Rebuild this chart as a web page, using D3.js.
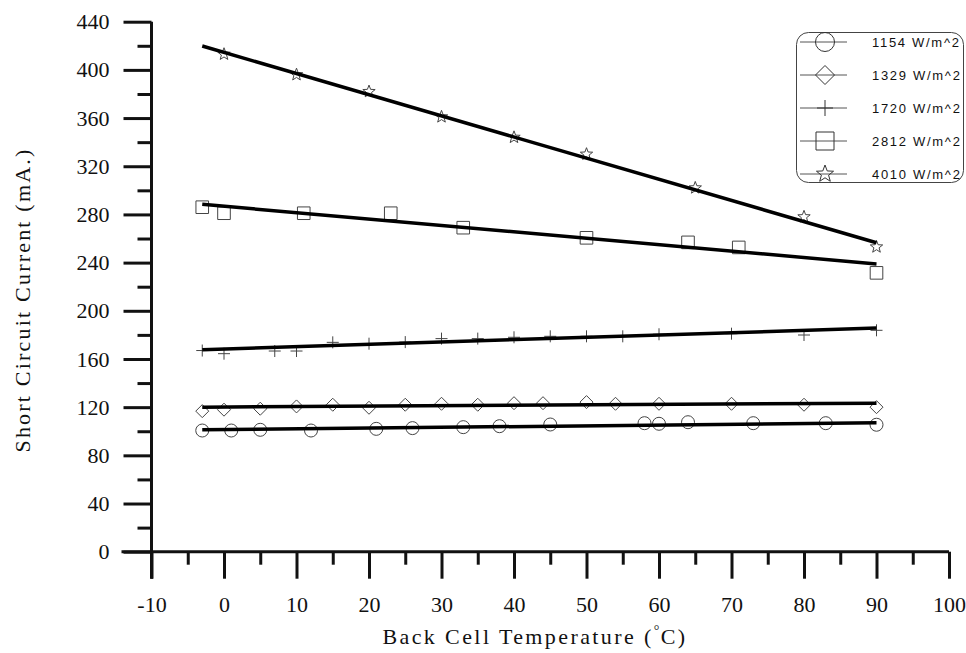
<!DOCTYPE html>
<html>
<head>
<meta charset="utf-8">
<script src="https://cdn.jsdelivr.net/npm/d3@7"></script>
<style>
body { margin: 0; background: #fff; }
svg { display: block; }
.axis text { font-family: "Liberation Serif", "Times New Roman", serif; font-size: 22px; fill: #111; }
.axis line { stroke: #111; stroke-width: 3; }
.title { font-family: "Liberation Serif", "Times New Roman", serif; font-size: 22px; fill: #111; }
.legend text { font-family: "Liberation Sans", Arial, sans-serif; font-size: 13px; fill: #111; letter-spacing: 1.7px; }
</style>
</head>
<body>
<svg id="chart" width="966" height="653"></svg>
<script>
// irradiance series, in legend order
const seriesNames = ['1154 W/m^2', '1329 W/m^2', '1720 W/m^2', '2812 W/m^2', '4010 W/m^2'];
const seriesShapes = ['circle', 'diamond', 'plus', 'square', 'star'];

// measured points (back cell temperature, short circuit current)
const temps1154 = [-3, 1, 5, 12, 21, 26, 33, 38, 45, 58, 60, 64, 73, 83, 90];
const amps1154 = [100.6, 100.6, 101.2, 100.6, 102, 102.6, 103.4, 104.2, 105.6, 106.7, 106.2, 107.5, 106.7, 106.7, 105.4];

const temps1329 = [-3, 0, 5, 10, 15, 20, 25, 30, 35, 40, 44, 50, 54, 60, 70, 80, 90];
const amps1329 = [116.7, 117.9, 118.7, 120.6, 122, 119.5, 122, 122.8, 122, 123.3, 123.3, 124.2, 122.8, 122.8, 122.8, 122, 120];

const temps1720 = [-3, 0, 7, 10, 15, 20, 25, 30, 35, 40, 45, 50, 55, 60, 70, 80, 90];
const amps1720 = [167, 164.4, 166.6, 166.6, 173.8, 172.7, 174, 176.9, 176.9, 178, 178.8, 178.8, 178.8, 180.5, 181, 179.9, 183.8];

const temps2812 = [-3, 0, 11, 23, 33, 50, 64, 71, 90];
const amps2812 = [286, 281, 281, 281, 269, 260.6, 256.8, 252.6, 231.5];

const temps4010 = [0, 10, 20, 30, 40, 50, 65, 80, 90];
const amps4010 = [413, 396, 382, 361, 344, 330, 302, 278, 253];

// fitted lines: [start temp, start current, end temp, end current]
const fit1154 = [-3, 101.2, 90, 107];
const fit1329 = [-3, 120, 90, 123.3];
const fit1720 = [-3, 167.7, 90, 185.7];
const fit2812 = [-3, 288.4, 90, 238.9];
const fit4010 = [-3, 419.8, 90, 256.5];

// axis ticks
const xMajor = d3.range(-10, 101, 10);
const xMinor = d3.range(-5, 96, 10);
const yMajor = d3.range(0, 441, 40);
const yMinor = d3.range(20, 440, 40);

const series = [
	{ temps: temps1154, amps: amps1154, fit: fit1154 },
	{ temps: temps1329, amps: amps1329, fit: fit1329 },
	{ temps: temps1720, amps: amps1720, fit: fit1720 },
	{ temps: temps2812, amps: amps2812, fit: fit2812 },
	{ temps: temps4010, amps: amps4010, fit: fit4010 }
].map((s, i) => ({
	name: seriesNames[i],
	shape: seriesShapes[i],
	points: s.temps.map((t, j) => [t, s.amps[j]]),
	fit: [[s.fit[0], s.fit[1]], [s.fit[2], s.fit[3]]]
}));

const $svg = d3.select('#chart');

const x = d3.scaleLinear().domain([-10, 100]).range([151.5, 949]);
const y = d3.scaleLinear().domain([0, 440]).range([551.7, 21.7]);

// marker outlines, r is roughly the half width
function markerPath(shape, r) {
	const p = d3.path();
	if (shape === 'circle') {
		p.arc(0, 0, r, 0, 2 * Math.PI);
	} else if (shape === 'diamond') {
		p.moveTo(0, -r); p.lineTo(r, 0); p.lineTo(0, r); p.lineTo(-r, 0); p.closePath();
	} else if (shape === 'square') {
		p.rect(-r, -r, 2 * r, 2 * r);
	} else if (shape === 'plus') {
		p.moveTo(-r, 0); p.lineTo(r, 0); p.moveTo(0, -r); p.lineTo(0, r);
	} else if (shape === 'star') {
		for (let k = 0; k < 10; k++) {
			const a = -Math.PI / 2 + k * Math.PI / 5;
			const rr = k % 2 ? r * 0.42 : r;
			if (k === 0) p.moveTo(rr * Math.cos(a), rr * Math.sin(a));
			else p.lineTo(rr * Math.cos(a), rr * Math.sin(a));
		}
		p.closePath();
	}
	return p.toString();
}

const plotSize = { circle: 6.5, diamond: 6.5, plus: 6, square: 6.3, star: 6.5 };
const legendSize = { circle: 9.5, diamond: 9.5, plus: 8, square: 9, star: 9 };

// axes (plain hyphen for negatives, as in the scan)
const fmt = d => String(d);

const $yAxis = $svg.append('g').attr('class', 'axis')
	.attr('transform', `translate(${x(-10)},0)`);
$yAxis.append('g')
	.call(d3.axisLeft(y).tickValues(yMajor).tickSize(28).tickSizeOuter(0).tickPadding(14).tickFormat(fmt));
$yAxis.append('g')
	.call(d3.axisLeft(y).tickValues(yMinor).tickSize(14).tickSizeOuter(0).tickFormat(''));
$yAxis.selectAll('.domain').remove();

const $xAxis = $svg.append('g').attr('class', 'axis')
	.attr('transform', `translate(0,${y(0)})`);
$xAxis.append('g')
	.call(d3.axisBottom(x).tickValues(xMajor).tickSize(27).tickSizeOuter(0).tickPadding(18).tickFormat(fmt));
$xAxis.append('g')
	.call(d3.axisBottom(x).tickValues(xMinor).tickSize(13).tickSizeOuter(0).tickFormat(''));
$xAxis.selectAll('.domain').remove();
$svg.selectAll('.axis text').attr('font-family', null).attr('font-size', null);

$svg.append('line')
	.attr('x1', x(-10)).attr('x2', x(-10))
	.attr('y1', y(440)).attr('y2', y(0) + 27)
	.attr('stroke', '#111').attr('stroke-width', 3);
$svg.append('line')
	.attr('x1', x(-10) - 30).attr('x2', x(100))
	.attr('y1', y(0)).attr('y2', y(0))
	.attr('stroke', '#111').attr('stroke-width', 3);

// axis titles
$svg.append('text')
	.attr('class', 'title')
	.attr('transform', 'translate(30,300) rotate(-90)')
	.attr('text-anchor', 'middle')
	.style('letter-spacing', '2.2px')
	.text('Short Circuit Current (mA.)');

const $xTitle = $svg.append('text')
	.attr('class', 'title')
	.attr('x', 535).attr('y', 644)
	.attr('text-anchor', 'middle')
	.style('letter-spacing', '2.4px');
$xTitle.append('tspan').text('Back Cell Temperature (');
$xTitle.append('tspan').attr('dy', -9).attr('font-size', 14).text('°');
$xTitle.append('tspan').attr('dy', 9).attr('dx', -1).text('C)');

// fitted lines
const line = d3.line().x(d => x(d[0])).y(d => y(d[1]));

const $series = $svg.selectAll('.series')
	.data(series)
	.join('g')
	.attr('class', 'series');

$series.selectAll('.marker')
	.data(d => d.points.map(p => ({ p, shape: d.shape })))
	.join('path')
	.attr('class', 'marker')
	.attr('transform', d => `translate(${x(d.p[0])},${y(d.p[1])})`)
	.attr('d', d => markerPath(d.shape, plotSize[d.shape]))
	.attr('fill', 'none')
	.attr('stroke', '#444')
	.attr('stroke-width', 1);

$series.append('path')
	.attr('d', d => line(d.fit))
	.attr('fill', 'none')
	.attr('stroke', '#000')
	.attr('stroke-width', 3.5);

// legend
const $legend = $svg.append('g').attr('class', 'legend');
$legend.append('rect')
	.attr('x', 796.5).attr('y', 32.5)
	.attr('width', 167).attr('height', 150)
	.attr('rx', 12)
	.attr('fill', '#fff')
	.attr('stroke', '#444')
	.attr('stroke-width', 1);

const $item = $legend.selectAll('.item')
	.data(series)
	.join('g')
	.attr('class', 'item')
	.attr('transform', (d, i) => `translate(0,${42 + i * 33})`);

$item.append('line')
	.attr('x1', 800).attr('x2', 847)
	.attr('stroke', '#555').attr('stroke-width', 1);
$item.append('path')
	.attr('transform', 'translate(825,0)')
	.attr('d', d => markerPath(d.shape, legendSize[d.shape]))
	.attr('fill', 'none')
	.attr('stroke', '#333')
	.attr('stroke-width', 1);
$item.append('text')
	.attr('x', 872).attr('y', 5)
	.text(d => d.name);
</script>
</body>
</html>
